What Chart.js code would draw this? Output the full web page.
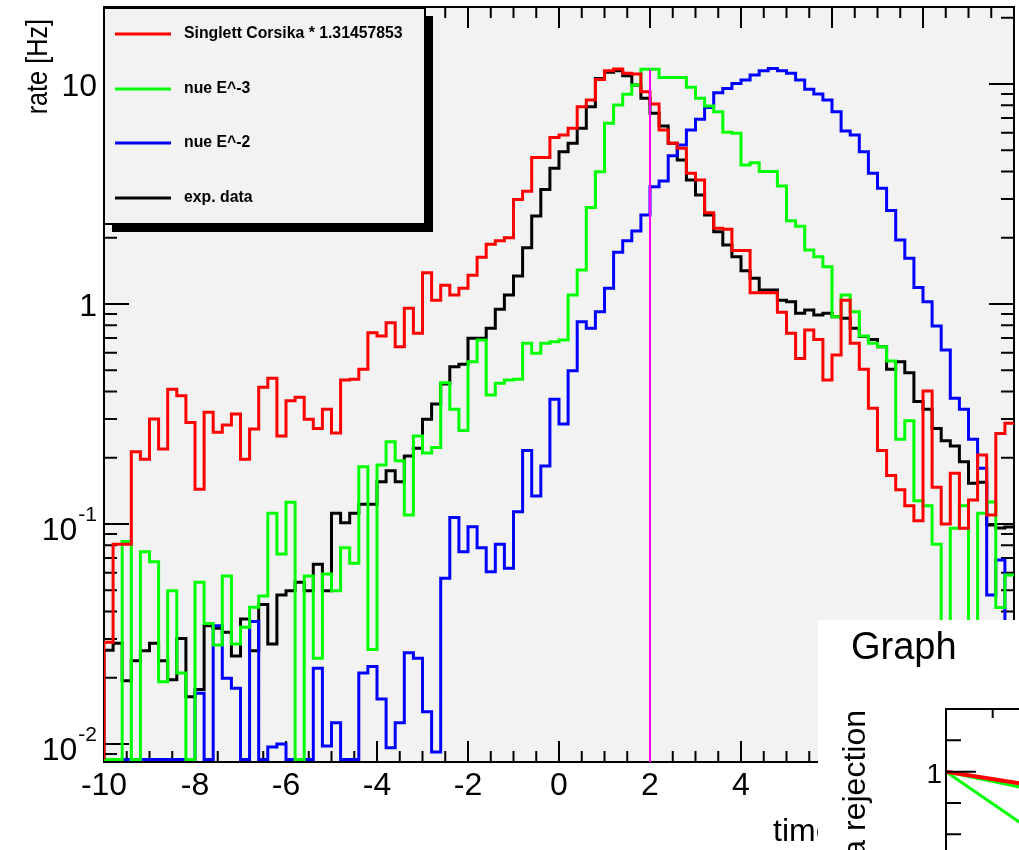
<!DOCTYPE html>
<html>
<head>
<meta charset="utf-8">
<script src="https://cdn.jsdelivr.net/npm/chart.js@4.4.1/dist/chart.umd.min.js"></script>
<style>
  html, body { margin: 0; padding: 0; background: #ffffff; overflow: hidden; width: 1019px; height: 850px; }
  #main { position: absolute; left: 0; top: 0; }
  #inset { position: absolute; left: 818px; top: 620px; }
</style>
</head>
<body>
<canvas id="main" width="1019" height="850"></canvas>
<canvas id="inset" width="600" height="500"></canvas>
<script>
// ---- histogram binning: 100 bins of 0.2 over [-10, 10] ----
const binLow = -10;
const binWidth = 0.2;

// rate per bin [Hz]; 0 = empty bin
const corsika = [
  0.029, 0.081, 0.081, 0.213, 0.197, 0.30, 0.219, 0.41, 0.383, 0.289,
  0.144, 0.322, 0.261, 0.282, 0.316, 0.197, 0.27, 0.418, 0.46, 0.251,
  0.363, 0.377, 0.299, 0.272, 0.332, 0.259, 0.451, 0.455, 0.505, 0.741,
  0.716, 0.822, 0.64, 0.956, 0.736, 1.387, 1.04, 1.216, 1.099, 1.178,
  1.35, 1.63, 1.87, 1.94, 2.0, 2.99, 3.26, 4.63, 4.63, 5.72,
  5.86, 6.29, 7.88, 8.46, 10.5, 11.5, 11.7, 11.2, 11.1, 9.23,
  8.11, 6.18, 5.38, 5.1, 3.93, 3.66, 2.6, 2.21, 2.19, 1.75,
  1.75, 1.126, 1.126, 1.126, 0.917, 0.736, 0.566, 0.762, 0.69, 0.451,
  0.586, 1.04, 0.663, 0.505, 0.336, 0.216, 0.166, 0.143, 0.121, 0.1035,
  0.402, 0.147, 0.1, 0.17, 0.0956, 0.1285, 0.206, 0.11, 0.258, 0.287
];
const nueE3 = [
  0, 0, 0.0832, 0, 0.0748, 0.0674, 0.0192, 0.0497, 0.021, 0,
  0.0543, 0.0353, 0.0282, 0.058, 0.0285, 0.0339, 0.0418, 0.0471, 0.112, 0.073,
  0.1254, 0, 0.058, 0.0245, 0.0593, 0.0497, 0.078, 0.0663, 0.182, 0.0269,
  0.1854, 0.2366, 0.194, 0.11, 0.251, 0.21, 0.223, 0.439, 0.332, 0.266,
  0.547, 0.686, 0.386, 0.436, 0.451, 0.455, 0.663, 0.597, 0.663, 0.674,
  0.686, 1.099, 1.427, 2.75, 3.996, 6.63, 8.03, 8.98, 9.9, 11.66,
  11.66, 10.7, 10.7, 10.7, 9.66, 8.61, 7.94, 7.48, 6.03, 5.97,
  4.28, 4.39, 4.0, 4.0, 3.44, 2.39, 2.26, 1.76, 1.64, 1.478,
  0.876, 1.099, 0.923, 0.716, 0.663, 0.64, 0.551, 0.2425, 0.295, 0.1276,
  0.121, 0.081, 0, 0.0956, 0.121, 0, 0.112, 0.126, 0.0417, 0.0586
];
const nueE2 = [
  0, 0, 0, 0, 0, 0, 0, 0, 0, 0,
  0.017, 0, 0.0345, 0.0199, 0.0179, 0, 0.036, 0, 0.0097, 0.01,
  0, 0, 0, 0.0221, 0.0098, 0.0125, 0, 0, 0.021, 0.0225,
  0.016, 0.0096, 0.0125, 0.026, 0.0245, 0.014, 0.0092, 0.0567, 0.107, 0.0748,
  0.0972, 0.078, 0.0607, 0.081, 0.063, 0.1138, 0.216, 0.134, 0.1835, 0.369,
  0.285, 0.497, 0.831, 0.775, 0.923, 1.178, 1.718, 1.94, 2.15, 2.54,
  3.41, 3.62, 4.72, 5.28, 6.18, 6.91, 7.83, 9.13, 9.55, 10.07,
  10.43, 10.99, 11.5, 11.78, 11.5, 11.2, 10.43, 9.46, 9.0, 8.46,
  7.48, 6.11, 5.86, 4.92, 3.93, 3.36, 2.66, 1.954, 1.613, 1.19,
  1.025, 0.794, 0.618, 0.373, 0.332, 0.2425, 0.179, 0.0476, 0.0686, 0.025
];
const expData = [
  0.0267, 0.0287, 0.0194, 0.0239, 0.0265, 0.0287, 0.0239, 0.0196, 0.0302, 0.0164,
  0.0177, 0.0345, 0.0336, 0.0322, 0.0251, 0.037, 0.0265, 0.0431, 0.0285, 0.0476,
  0.0497, 0.0543, 0.0497, 0.0656, 0.0497, 0.112, 0.1014, 0.112, 0.123, 0.123,
  0.1557, 0.1747, 0.1557, 0.204, 0.221, 0.299, 0.351, 0.433, 0.519, 0.532,
  0.698, 0.698, 0.775, 0.946, 1.099, 1.34, 1.80, 2.51, 3.32, 4.14,
  4.92, 5.38, 6.29, 7.88, 10.6, 11.3, 11.5, 10.9, 9.9, 8.61,
  7.36, 6.44, 5.38, 4.51, 3.66, 3.13, 2.54, 2.13, 1.854, 1.64,
  1.418, 1.308, 1.158, 1.158, 1.04, 1.025, 0.907, 0.939, 0.891, 0.907,
  0.876, 0.861, 0.775, 0.711, 0.69, 0.64, 0.505, 0.547, 0.487, 0.36,
  0.332, 0.272, 0.239, 0.226, 0.192, 0.153, 0.155, 0.099, 0.096, 0.097
];

// vertical cut marker
const cutTime = 2;
const cutHeight = 11.6;

// legend texts
const legendLabels = ['Singlett Corsika * 1.31457853', 'nue E^-3', 'nue E^-2', 'exp. data'];

// axis ranges and tick labels
const xMin = -10, xMax = 10;
const yMin = 0.00828, yMax = 22.4;
const emptyBinLevel = 0.0085;
const xTickValues = [-10, -8, -6, -4, -2, 0, 2, 4, 6, 8, 10];
const xTickLabels = ['-10', '-8', '-6', '-4', '-2', '0', '2', '4', '6', '8', '10'];
const yTickValues = [10, 1, 0.1, 0.01];
const yTickBase = ['10', '1', '10', '10'];
const yTickExp = ['', '', '-1', '-2'];
const xTitle = 'time';
const yTitle = 'rate [Hz]';

// ---- small "Graph" pad ----
const graphX = [0, 0.16];
const graphRed = [1, 0.981];
const graphGreenA = [1, 0.975];
const graphGreenB = [1, 0.918];
const graphTitle = 'Graph';
const graphYTitle = 'Gamma rejection';
const graphYTickValues = [1];
const graphYTickLabels = ['1'];

const FONT = '"Liberation Sans", Arial, Helvetica, sans-serif';

function histPoints(values) {
  const pts = [{ x: binLow, y: emptyBinLevel }];
  values.forEach((v, i) => pts.push({ x: binLow + i * binWidth, y: v > 0 ? v : emptyBinLevel }));
  const last = values[values.length - 1];
  pts.push({ x: binLow + values.length * binWidth, y: last > 0 ? last : emptyBinLevel });
  return pts;
}

function histDataset(label, values, color, order, legendIndex) {
  return {
    label, data: histPoints(values), borderColor: color, borderWidth: 3,
    stepped: 'before', pointRadius: 0, fill: false, order, legendIndex
  };
}

const seriesColors = ['#ff0000', '#00ff00', '#0000ff', '#000000'];

const rootPad = {
  id: 'rootPad',
  beforeDraw(chart) {
    const { ctx, chartArea: a } = chart;
    ctx.save();
    ctx.fillStyle = '#ffffff';
    ctx.fillRect(0, 0, chart.width, chart.height);
    ctx.fillStyle = '#f2f2f2';
    ctx.fillRect(a.left, a.top, a.right - a.left, a.bottom - a.top);
    ctx.restore();
  },
  beforeDatasetsDraw(chart) {
    const { ctx, chartArea: a } = chart;
    const xs = chart.scales.x, ys = chart.scales.y;
    ctx.save();
    ctx.strokeStyle = '#000';
    ctx.lineWidth = 2;
    ctx.strokeRect(a.left, a.top, a.right - a.left, a.bottom - a.top);

    // inward ticks on all four sides
    ctx.beginPath();
    for (let i = 0; i <= (xMax - xMin) / 0.5; i++) {
      const v = xMin + i * 0.5;
      const px = xs.getPixelForValue(v);
      const major = Math.abs(v / 2 - Math.round(v / 2)) < 1e-6;
      const len = major ? 21 : 11;
      ctx.moveTo(px, a.bottom); ctx.lineTo(px, a.bottom - len);
      ctx.moveTo(px, a.top); ctx.lineTo(px, a.top + len);
    }
    for (let d = -3; d <= 2; d++) {
      for (let m = 1; m <= 9; m++) {
        const v = m * Math.pow(10, d);
        if (v < yMin || v > yMax) continue;
        const py = ys.getPixelForValue(v);
        const len = m === 1 ? 25 : 13;
        ctx.moveTo(a.left, py); ctx.lineTo(a.left + len, py);
        ctx.moveTo(a.right, py); ctx.lineTo(a.right - len, py);
      }
    }
    ctx.stroke();

    // tick labels
    ctx.fillStyle = '#000';
    ctx.font = '32px ' + FONT;
    ctx.textAlign = 'center';
    ctx.textBaseline = 'alphabetic';
    xTickValues.forEach((v, i) => {
      ctx.fillText(xTickLabels[i], xs.getPixelForValue(v), a.bottom + 33);
    });
    const labelRight = a.left - 7;
    yTickValues.forEach((v, i) => {
      const py = ys.getPixelForValue(v);
      ctx.textAlign = 'right';
      if (yTickExp[i]) {
        ctx.font = '21px ' + FONT;
        const w = ctx.measureText(yTickExp[i]).width;
        ctx.fillText(yTickExp[i], labelRight, py - 3);
        ctx.font = '32px ' + FONT;
        ctx.fillText(yTickBase[i], labelRight - w - 1, py + 16);
      } else {
        ctx.font = '32px ' + FONT;
        ctx.fillText(yTickBase[i], labelRight, py + 12);
      }
    });

    // axis titles
    ctx.font = '32px ' + FONT;
    ctx.textAlign = 'left';
    ctx.fillText(xTitle, 773, 841);
    ctx.save();
    ctx.translate(47, 19);
    ctx.rotate(-Math.PI / 2);
    ctx.scale(0.87, 1);
    ctx.font = '29px ' + FONT;
    ctx.textAlign = 'right';
    ctx.fillText(yTitle, 0, 0);
    ctx.restore();
    ctx.restore();
  },
  afterDatasetsDraw(chart) {
    const { ctx } = chart;
    ctx.save();
    // legend box with drop shadow
    const L = { x: 104, y: 8, w: 321, h: 216, sh: 8 };
    ctx.fillStyle = '#000';
    ctx.fillRect(L.x + L.w, L.y + L.sh, L.sh, L.h);
    ctx.fillRect(L.x + L.sh, L.y + L.h, L.w, L.sh);
    ctx.fillStyle = '#f2f2f2';
    ctx.fillRect(L.x, L.y, L.w, L.h);
    ctx.strokeStyle = '#000';
    ctx.lineWidth = 2;
    ctx.strokeRect(L.x, L.y, L.w, L.h);
    const rowY = [34, 89, 143, 198];
    const entries = chart.data.datasets.filter(d => d.legendIndex !== undefined)
      .sort((p, q) => p.legendIndex - q.legendIndex);
    entries.forEach((d, i) => {
      ctx.strokeStyle = d.borderColor;
      ctx.lineWidth = 3;
      ctx.beginPath();
      ctx.moveTo(115, rowY[i]); ctx.lineTo(171, rowY[i]);
      ctx.stroke();
      ctx.fillStyle = '#000';
      ctx.font = 'bold 15.8px ' + FONT;
      ctx.textAlign = 'left';
      ctx.textBaseline = 'middle';
      ctx.fillText(d.label, 184, rowY[i]);
    });
    ctx.restore();
  }
};

const datasets = [
  histDataset(legendLabels[0], corsika, seriesColors[0], 1, 0),
  histDataset(legendLabels[1], nueE3, seriesColors[1], 2, 1),
  histDataset(legendLabels[2], nueE2, seriesColors[2], 3, 2),
  histDataset(legendLabels[3], expData, seriesColors[3], 4, 3),
  {
    label: 'cut', data: [{ x: cutTime, y: yMin }, { x: cutTime, y: cutHeight }],
    borderColor: '#ff00ff', borderWidth: 2, pointRadius: 0, fill: false, order: 0
  }
];

new Chart(document.getElementById('main'), {
  type: 'line',
  data: { datasets },
  options: {
    responsive: false,
    animation: false,
    events: [],
    devicePixelRatio: 1,
    layout: { padding: { left: 104, top: 7, right: 5, bottom: 88 } },
    plugins: { legend: { display: false }, tooltip: { enabled: false }, title: { display: false } },
    scales: {
      x: { type: 'linear', min: xMin, max: xMax, display: false },
      y: { type: 'logarithmic', min: yMin, max: yMax, display: false }
    }
  },
  plugins: [rootPad]
});

// ---- the "Graph" pad on top ----
const graphPad = {
  id: 'graphPad',
  beforeDraw(chart) {
    const { ctx } = chart;
    ctx.save();
    ctx.fillStyle = '#ffffff';
    ctx.fillRect(0, 0, chart.width, chart.height);
    ctx.restore();
  },
  afterDatasetsDraw(chart) {
    const { ctx, chartArea: a } = chart;
    const xs = chart.scales.x, ys = chart.scales.y;
    ctx.save();
    ctx.strokeStyle = '#000';
    ctx.lineWidth = 2;
    ctx.strokeRect(a.left, a.top, a.right - a.left, a.bottom - a.top);
    ctx.beginPath();
    for (let i = 0; i <= 10; i++) {
      const px = xs.getPixelForValue(i * 0.1);
      const len = (i % 5 === 0) ? 18 : 9;
      ctx.moveTo(px, a.top); ctx.lineTo(px, a.top + len);
    }
    for (let i = 0; i <= 12; i++) {
      const v = 0.5 + i * 0.05;
      const py = ys.getPixelForValue(v);
      const major = Math.abs(v - 1) < 1e-6 || Math.abs(v - 0.5) < 1e-6;
      const len = major ? 30 : 15;
      ctx.moveTo(a.left, py); ctx.lineTo(a.left + len, py);
    }
    ctx.stroke();
    ctx.fillStyle = '#000';
    ctx.font = '28px ' + FONT;
    ctx.textAlign = 'right';
    ctx.textBaseline = 'alphabetic';
    graphYTickValues.forEach((v, i) => {
      ctx.fillText(graphYTickLabels[i], a.left - 4, ys.getPixelForValue(v) + 11);
    });
    ctx.font = '38px ' + FONT;
    ctx.textAlign = 'left';
    ctx.fillText(graphTitle, 33, 39);
    ctx.save();
    ctx.translate(47, 90);
    ctx.rotate(-Math.PI / 2);
    ctx.font = '32px ' + FONT;
    ctx.textAlign = 'right';
    ctx.fillText(graphYTitle, 0, 0);
    ctx.restore();
    ctx.restore();
  }
};

const toPts = (xv, yv) => xv.map((x, i) => ({ x, y: yv[i] }));

new Chart(document.getElementById('inset'), {
  type: 'line',
  data: {
    datasets: [
      { label: 'a', data: toPts(graphX, graphRed), borderColor: '#ff0000', borderWidth: 4, pointRadius: 0, order: 0 },
      { label: 'b', data: toPts(graphX, graphGreenA), borderColor: '#00ff00', borderWidth: 3, pointRadius: 0, order: 1 },
      { label: 'c', data: toPts(graphX, graphGreenB), borderColor: '#00ff00', borderWidth: 3, pointRadius: 0, order: 2 }
    ]
  },
  options: {
    responsive: false,
    animation: false,
    events: [],
    devicePixelRatio: 1,
    layout: { padding: { left: 128, top: 89, right: 5, bottom: 35 } },
    plugins: { legend: { display: false }, tooltip: { enabled: false } },
    scales: {
      x: { type: 'linear', min: 0, max: 1, display: false },
      y: { type: 'linear', min: 0.5, max: 1.1, display: false }
    }
  },
  plugins: [graphPad]
});
</script>
</body>
</html>
